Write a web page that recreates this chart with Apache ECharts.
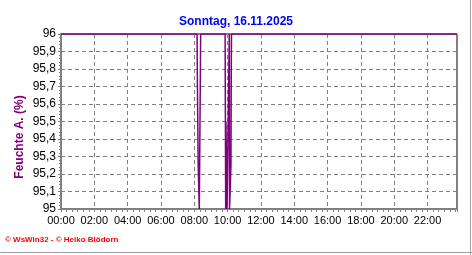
<!DOCTYPE html>
<html>
<head>
<meta charset="utf-8">
<script src="https://cdn.jsdelivr.net/npm/echarts@6/dist/echarts.min.js"></script>
<style>
html,body{margin:0;padding:0;background:#fff;}
#c{width:472px;height:255px;}
</style>
</head>
<body>
<div id="c"></div>
<script>
// Data (time in minutes since 00:00, humidity in %)
var titleText = 'Sonntag, 16.11.2025';
var yName = 'Feuchte A. (%)';
var footer = '\u00a9 WsWin32 - \u00a9 Heiko Bl\u00f6dorn';
var times = [0, 490, 491, 494, 498, 502, 503,
             591, 592, 593, 594, 597, 598, 605, 606, 607, 611, 612, 613, 614, 1426];
var values = [96, 96, 95.75, 95.25, 95, 95, 96,
              96, 95.5, 95, 95.5, 95.5, 95, 95, 96, 95, 95, 95.25, 95.75, 96, 96];
var xMin = 0, xMax = 1426, xStep = 120;
var yMin = 95, yMax = 96, yStep = 0.1;

var data = times.map(function (t, i) { return [t, values[i]]; });
function hhmm(v) {
  if (v % xStep !== 0) return '';
  var h = Math.floor(v / 60), m = v % 60;
  return (h < 10 ? '0' : '') + h + ':' + (m < 10 ? '0' : '') + m;
}
var chart = echarts.init(document.getElementById('c'), null, {renderer: 'canvas'});
var font = '"Liberation Sans", Arial, sans-serif';
chart.setOption({
  animation: false,
  backgroundColor: '#fff',
  title: {
    text: titleText, left: 'center', top: 11,
    textStyle: {color: '#0000ff', fontSize: 12, fontWeight: 'bold', fontFamily: font}
  },
  grid: {left: 61, top: 34, right: 15, bottom: 46, show: true, borderColor: '#000', borderWidth: 1, backgroundColor: '#fff'},
  xAxis: {
    type: 'value', min: xMin, max: xMax, interval: xStep,
    axisLine: {show: true, onZero: false, lineStyle: {color: '#808080', width: 2}},
    axisTick: {show: true, length: 3, lineStyle: {color: '#808080'}},
    minorTick: {show: true, splitNumber: 6, length: 3, lineStyle: {color: '#808080'}},
    axisLabel: {formatter: hhmm, color: '#000', fontSize: 11, fontFamily: font, margin: 6, showMaxLabel: false},
    splitLine: {show: true, lineStyle: {color: '#808080', type: [4, 3], width: 1}}
  },
  yAxis: {
    type: 'value', min: yMin, max: yMax, interval: yStep,
    axisLine: {show: true, onZero: false, lineStyle: {color: '#808080', width: 2}},
    axisTick: {show: true, length: 3, lineStyle: {color: '#808080'}},
    minorTick: {show: true, splitNumber: 5, length: 2, lineStyle: {color: '#808080'}},
    axisLabel: {
      formatter: function (v) { return String(Number(v.toFixed(1))).replace('.', ','); },
      color: '#000', fontSize: 12, fontFamily: font, margin: 5
    },
    splitLine: {show: true, lineStyle: {color: '#808080', type: [4, 3], width: 1}}
  },
  series: [{
    type: 'line', data: data, showSymbol: false, symbol: 'none',
    lineStyle: {color: '#800080', width: 1.5}, clip: true
  }],
  graphic: [
    {type: 'text', x: 20, y: 137, rotation: Math.PI / 2,
     style: {text: yName, fill: '#800080', font: 'bold 12px ' + font, align: 'center', verticalAlign: 'middle'}},
    {type: 'text', x: 5, y: 240,
     style: {text: footer, fill: '#ff0000', font: 'bold 8px ' + font, align: 'left', verticalAlign: 'middle'}},
    {type: 'line', shape: {x1: 470.5, y1: 0, x2: 470.5, y2: 255}, style: {stroke: '#a0a0a0', lineWidth: 1}},
    {type: 'line', shape: {x1: 0, y1: 252.5, x2: 472, y2: 252.5}, style: {stroke: '#a0a0a0', lineWidth: 1}}
  ]
});
</script>
</body>
</html>
